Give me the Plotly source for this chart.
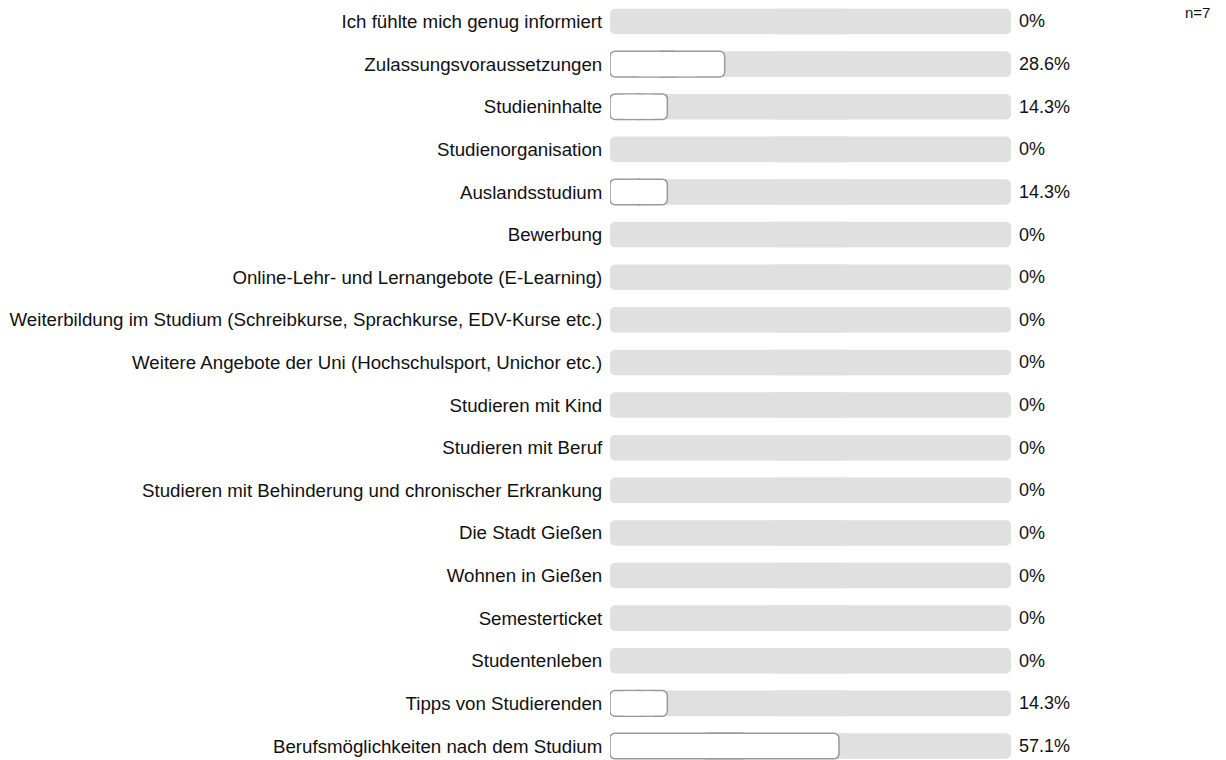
import plotly.graph_objects as go

categories = [
    "Ich fühlte mich genug informiert",
    "Zulassungsvoraussetzungen",
    "Studieninhalte",
    "Studienorganisation",
    "Auslandsstudium",
    "Bewerbung",
    "Online-Lehr- und Lernangebote (E-Learning)",
    "Weiterbildung im Studium (Schreibkurse, Sprachkurse, EDV-Kurse etc.)",
    "Weitere Angebote der Uni (Hochschulsport, Unichor etc.)",
    "Studieren mit Kind",
    "Studieren mit Beruf",
    "Studieren mit Behinderung und chronischer Erkrankung",
    "Die Stadt Gießen",
    "Wohnen in Gießen",
    "Semesterticket",
    "Studentenleben",
    "Tipps von Studierenden",
    "Berufsmöglichkeiten nach dem Studium",
]
percent = [0, 28.6, 14.3, 0, 14.3, 0, 0, 0, 0, 0, 0, 0, 0, 0, 0, 0, 14.3, 57.1]
sample_note = "n=7"

rows = list(range(len(categories)))
FONT = "Liberation Sans, Arial, sans-serif"
TEXT = "#111"
BAR_W = 0.6
TRACK = "#e0e0e0"
EDGE = "#999999"
RADIUS = 5
SPLIT = 0.4  # the two halves overlap between SPLIT and 1 - SPLIT

fig = go.Figure()

# Plotly only rounds the far end of a bar. Each bar is therefore built from
# a right half on a normal axis and a left half on a mirrored axis (x2/x4),
# so both ends come out rounded.


def right_half(ys, vals, axis, fill, line):
    fig.add_trace(go.Bar(
        y=ys, x=[(1 - SPLIT) * v for v in vals], base=[SPLIT * v for v in vals],
        orientation="h", width=BAR_W, xaxis=axis,
        marker=dict(color=fill, line=line, cornerradius=RADIUS),
        hoverinfo="skip", showlegend=False,
    ))


def left_half(ys, vals, axis, fill, line):
    # on the mirrored axis, value 100 sits at the left edge
    fig.add_trace(go.Bar(
        y=ys, x=[(1 - SPLIT) * v for v in vals],
        base=[100 - (1 - SPLIT) * v for v in vals],
        orientation="h", width=BAR_W, xaxis=axis,
        marker=dict(color=fill, line=line, cornerradius=RADIUS),
        hoverinfo="skip", showlegend=False,
    ))


# full-width track behind each answer
track = [100] * len(rows)
right_half(rows, track, "x", TRACK, dict(width=0))
left_half(rows, track, "x2", TRACK, dict(width=0))

# share of respondents per answer
ys = [r for r, p in zip(rows, percent) if p > 0]
vals = [p for p in percent if p > 0]
edge = dict(color=EDGE, width=1.5)
right_half(ys, vals, "x3", "#ffffff", edge)
left_half(ys, vals, "x4", "#ffffff", edge)
# white fill over the overlap so the inner stroke ends disappear
fig.add_trace(go.Bar(
    y=ys, x=[0.5 * v for v in vals], base=[100 - 0.75 * v for v in vals],
    orientation="h", width=BAR_W - 0.035, xaxis="x4",
    marker=dict(color="#ffffff", line=dict(width=0)),
    hoverinfo="skip", showlegend=False,
))

for r, p in zip(rows, percent):
    fig.add_annotation(
        x=100, y=r, xref="x", yref="y", text=f"{p:g}%",
        showarrow=False, xanchor="left", xshift=6,
        font=dict(family=FONT, size=18, color=TEXT),
    )

fig.add_annotation(
    x=(1183 - 610) / 401, y=1 - 2 / 760, xref="paper", yref="paper",
    text=sample_note, showarrow=False, xanchor="left", yanchor="top",
    font=dict(family=FONT, size=15, color=TEXT),
)

hidden = dict(visible=False, fixedrange=True)
fig.update_layout(
    width=1226, height=760,
    margin=dict(l=610, r=215, t=0, b=0),
    paper_bgcolor="white", plot_bgcolor="white",
    barmode="overlay",
    font=dict(family=FONT, size=18, color=TEXT),
    xaxis=dict(range=[0, 100], **hidden),
    xaxis2=dict(range=[100, 0], overlaying="x", **hidden),
    xaxis3=dict(range=[0, 100], overlaying="x", **hidden),
    xaxis4=dict(range=[100, 0], overlaying="x", **hidden),
    yaxis=dict(
        range=[17.328, -0.504], tickvals=rows, ticktext=categories,
        showgrid=False, zeroline=False, showline=False,
        ticks="outside", ticklen=3, tickcolor="rgba(0,0,0,0)",
        tickfont=dict(family=FONT, size=18.7, color=TEXT),
    ),
)

fig.write_html("out.html")
